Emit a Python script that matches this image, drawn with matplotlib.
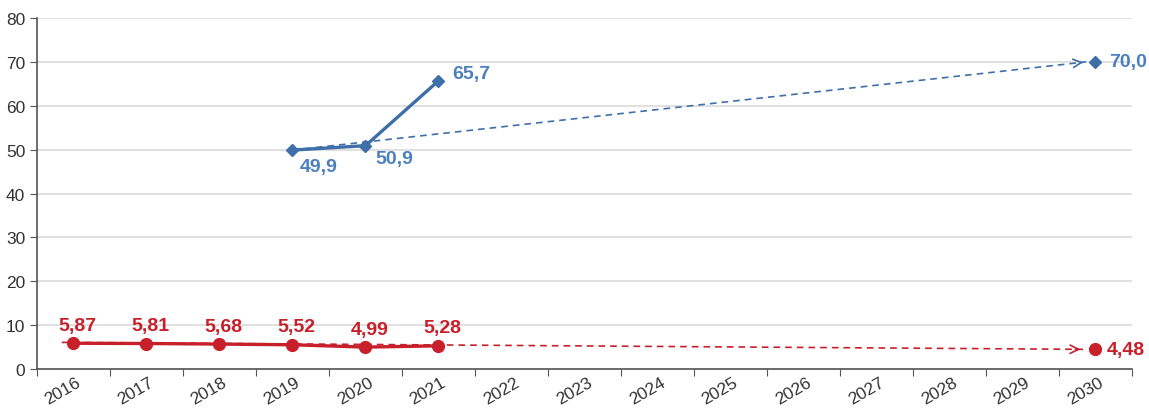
import matplotlib
matplotlib.use("Agg")
import matplotlib.pyplot as plt
import matplotlib.transforms as mtransforms
import numpy as np

plt.rcParams['font.family'] = ['Liberation Sans', 'DejaVu Sans']

# data
years = [str(y) for y in range(2016, 2031)]
red_years = ["2016", "2017", "2018", "2019", "2020", "2021"]
red_vals = [5.87, 5.81, 5.68, 5.52, 4.99, 5.28]
red_target_year = "2030"
red_target = 4.48
blue_years = ["2019", "2020", "2021"]
blue_vals = [49.9, 50.9, 65.7]
blue_target_year = "2030"
blue_target = 70.0

RED = "#c8202a"
BLUE = "#3f6fa8"
BLUE_TXT = "#4a80bd"

def fmt(v):
    return f"{v:.2f}".replace(".", ",") if v < 10 else f"{v:.1f}".replace(".", ",")

idx = {y: i for i, y in enumerate(years)}
rx = [idx[y] for y in red_years]
bx = [idx[y] for y in blue_years]

fig = plt.figure(figsize=(11.49, 4.14), dpi=100)
ax = fig.add_axes([0.0322, 0.1063, 0.9530, 0.8477])

ax.set_xlim(-0.5, len(years) - 0.5)
ax.set_ylim(0, 80)
ax.set_yticks(np.arange(0, 81, 10))
ax.yaxis.grid(True, color="#e0e0e0", lw=1.4)
ax.set_axisbelow(True)
for s in ["top", "right"]:
    ax.spines[s].set_visible(False)
for s in ["left", "bottom"]:
    ax.spines[s].set_color("#555555")
    ax.spines[s].set_linewidth(1.2)

# ticks at category boundaries, labels at centres
ax.set_xticks(np.arange(-0.5, len(years), 1))
ax.set_xticklabels([])
ax.set_xticks(np.arange(len(years)), minor=True)
ax.set_xticklabels(years, minor=True, rotation=30, ha="right", fontsize=12.5, color="#333333")
ax.tick_params(axis="x", which="minor", length=0, pad=4)
ax.tick_params(axis="x", which="major", length=5, color="#555555")
ax.tick_params(axis="y", length=5, color="#555555", labelsize=12.5, labelcolor="#333333")
off = mtransforms.ScaledTranslation(10 / 100, 0, fig.dpi_scale_trans)
for lab in ax.get_xticklabels(minor=True):
    lab.set_transform(lab.get_transform() + off)

# trend (dashed) lines with open arrowheads
def trend(x0, y0, x1, y1, color):
    ax.plot([x0, x1], [y0, y1], ls=(0, (4, 3)), lw=1.2, color=color, zorder=2)
    dx = (x1 - x0) * 0.01
    dy = (y1 - y0) * 0.01
    ax.annotate("", xy=(x1, y1), xytext=(x1 - dx, y1 - dy),
                arrowprops=dict(arrowstyle="->,head_length=0.6,head_width=0.3",
                                color=color, lw=1.2), zorder=2)

trend(rx[0] - 0.16, red_vals[0] + 0.2, idx[red_target_year] - 0.17, red_target, RED)
trend(bx[0], blue_vals[0], idx[blue_target_year] - 0.13, blue_target, BLUE)

# actual values
ax.plot(rx, red_vals, color=RED, lw=2.4, marker="o", ms=8.5, zorder=3)
ax.plot([idx[red_target_year]], [red_target], color=RED, marker="o", ms=8.5, ls="none", zorder=3)
ax.plot(bx, blue_vals, color=BLUE, lw=2.4, marker="D", ms=6, zorder=3)
ax.plot([idx[blue_target_year]], [blue_target], color=BLUE, marker="D", ms=6, ls="none", zorder=3)

# labels
lab_kw = dict(textcoords="offset points", fontsize=14, fontweight="bold")
for x, v in zip(rx, red_vals):
    ax.annotate(fmt(v), (x, v), xytext=(3, 13), ha="center", va="center", color=RED, **lab_kw)
ax.annotate(fmt(red_target), (idx[red_target_year], red_target), xytext=(8, 0),
            ha="left", va="center", color=RED, **lab_kw)
ax.annotate(fmt(blue_vals[0]), (bx[0], blue_vals[0]), xytext=(19, -12),
            ha="center", va="center", color=BLUE_TXT, **lab_kw)
ax.annotate(fmt(blue_vals[1]), (bx[1], blue_vals[1]), xytext=(21, -9),
            ha="center", va="center", color=BLUE_TXT, **lab_kw)
ax.annotate(fmt(blue_vals[2]), (bx[2], blue_vals[2]), xytext=(10, 5),
            ha="left", va="center", color=BLUE_TXT, **lab_kw)
ax.annotate(fmt(blue_target), (idx[blue_target_year], blue_target), xytext=(10, 0),
            ha="left", va="center", color=BLUE_TXT, **lab_kw)

fig.savefig("out.png", dpi=100)
